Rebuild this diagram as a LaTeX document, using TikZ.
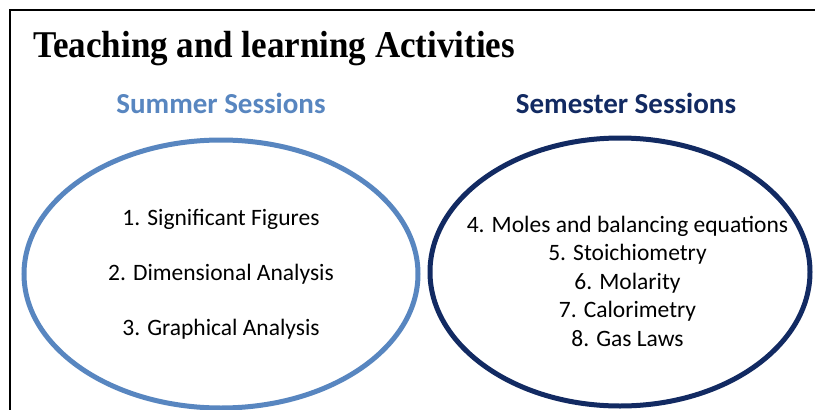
\documentclass[tikz,border=0pt]{standalone}
\usepackage{fontspec}
\setmainfont{Liberation Serif}
\newfontfamily\calib{Carlito}
\definecolor{lightblue}{RGB}{88,134,192}
\definecolor{navyblue}{RGB}{18,42,98}
\begin{document}
\begin{tikzpicture}[x=1pt,y=-1pt,
  ringA/.style={draw=lightblue,line width=5pt},
  ringB/.style={draw=navyblue,line width=5pt},
  headtext/.style={font=\calib\bfseries\fontsize{29}{34}\selectfont,inner sep=0pt,anchor=base},
  itemtext/.style={font=\calib\fontsize{23.5}{28.5}\selectfont,inner sep=0pt,align=center}]
\useasboundingbox (0,0) rectangle (815,410);
\fill[white] (0,0) rectangle (815,410);
% frame
\draw[line width=2pt] (10,410) -- (10,10) -- (815,10);
% title
\node[anchor=base west,inner sep=0pt,font=\bfseries\fontsize{35}{40}\selectfont] (title) at (33,57) {\scalebox{1}[1.08]{Teaching and learning Activities}};
% headings
\node[headtext,text=lightblue] (summer) at (221,113) {Summer Sessions};
\node[headtext,text=navyblue] (semester) at (626,113) {Semester Sessions};
% ellipses
\draw[ringA] (221,274) ellipse [x radius=197, y radius=134];
\draw[ringB] (620,272) ellipse [x radius=190, y radius=134];
\coordinate (cA) at (221,274);
\coordinate (cB) at (620,272);
% left items
\node[itemtext] (s1) at (221,219) {1. Significant Figures};
\node[itemtext] (s2) at (221,274) {2. Dimensional Analysis};
\node[itemtext] (s3) at (221,329) {3. Graphical Analysis};
% right items
\node[itemtext] (m) at (627.5,281) {4. Moles and balancing equations\\5. Stoichiometry\\6. Molarity\\7. Calorimetry\\8. Gas Laws};
\end{tikzpicture}
\end{document}
